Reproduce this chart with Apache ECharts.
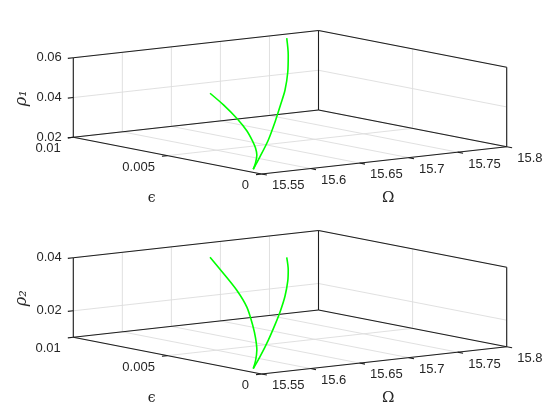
<!DOCTYPE html>
<html><head><meta charset="utf-8">
<script src="https://cdn.jsdelivr.net/npm/echarts@6/dist/echarts.min.js"></script>
<style>html,body{margin:0;padding:0;background:#fff}#c{width:560px;height:420px}</style>
</head><body><div id="c"></div>
<script>
// ---- data ----
const epsilonA = [0.0005,0.0011,0.0018,0.0026,0.0034,0.0048,0.0064,0.0082,0.0100];
const omegaA   = [15.5512,15.5650,15.5798,15.5938,15.6066,15.6273,15.6478,15.6686,15.6894];
const rho1A    = [0.0214,0.0227,0.0246,0.0259,0.0267,0.0285,0.0307,0.0331,0.0345];
const rho2A    = [0.0113,0.0128,0.0153,0.0182,0.0209,0.0253,0.0286,0.0317,0.0345];
const epsilonB = [0.0005,0.0011,0.0018,0.0026,0.0034,0.0048,0.0064,0.0082,0.0100];
const omegaB   = [15.5512,15.5696,15.5915,15.6137,15.6346,15.6661,15.6996,15.7346,15.7676];
const rho1B    = [0.0214,0.0256,0.0315,0.0379,0.0438,0.0470,0.0513,0.0546,0.0579];
const rho2B    = [0.0113,0.0142,0.0186,0.0224,0.0257,0.0280,0.0301,0.0303,0.0312];

// axes
const omegaRange = [15.55, 15.8];
const omegaTicks = [15.55, 15.6, 15.65, 15.7, 15.75, 15.8];
const omegaTickLabels = ['15.55','15.6','15.65','15.7','15.75','15.8'];
const epsRange = [0, 0.01];
const epsTicks = [0, 0.005, 0.01];
const epsTickLabels = ['0','0.005','0.01'];
const rho1Range = [0.02, 0.06];
const rho1Ticks = [0.02, 0.04, 0.06];
const rho1TickLabels = ['0.02','0.04','0.06'];
const rho2Range = [0.01, 0.04];
const rho2Ticks = [0.02, 0.04];
const rho2TickLabels = ['0.02','0.04'];

// ---- view (orthographic projection layout) ----
const OM_VEC = [245.2, -27.3];
const EPS_VEC = [-188.2, -36.7];
const RHO_LEN = 79.5;
const panels = [
  {origin:[261.5,174], rr:rho1Range, ticks:rho1Ticks, labels:rho1TickLabels, name:'ρ₁', ca:rho1A, cb:rho1B},
  {origin:[261.5,374], rr:rho2Range, ticks:rho2Ticks, labels:rho2TickLabels, name:'ρ₂', ca:rho2A, cb:rho2B}
];
function proj(pn, e, o, r) {
  const fe = (e - epsRange[0]) / (epsRange[1] - epsRange[0]);
  const fo = (o - omegaRange[0]) / (omegaRange[1] - omegaRange[0]);
  const fr = (r - pn.rr[0]) / (pn.rr[1] - pn.rr[0]);
  return [pn.origin[0] + fo*OM_VEC[0] + fe*EPS_VEC[0],
          pn.origin[1] + fo*OM_VEC[1] + fe*EPS_VEC[1] - fr*RHO_LEN];
}
function unit(v){const l=Math.hypot(v[0],v[1]);return [v[0]/l,v[1]/l];}
const TL = 5.5;
const dOm = unit([-OM_VEC[0],-OM_VEC[1]]);   // ticks of eps & rho axes
const dEps = unit([-EPS_VEC[0],-EPS_VEC[1]]); // ticks of omega axis

const gridSegs = [], edgeSegs = [], texts = [], curves = [];
const e0=epsRange[0], e1=epsRange[1], o0=omegaRange[0], o1=omegaRange[1];
function seg(arr, a, b){arr.push([a[0],a[1],b[0],b[1]]);}

panels.forEach(pn => {
  const r0=pn.rr[0], r1=pn.rr[1];
  // grid: back wall (eps = max)
  omegaTicks.forEach(o => seg(gridSegs, proj(pn,e1,o,r0), proj(pn,e1,o,r1)));
  pn.ticks.forEach(r => seg(gridSegs, proj(pn,e1,o0,r), proj(pn,e1,o1,r)));
  // right wall (omega = max)
  epsTicks.forEach(e => seg(gridSegs, proj(pn,e,o1,r0), proj(pn,e,o1,r1)));
  pn.ticks.forEach(r => seg(gridSegs, proj(pn,e0,o1,r), proj(pn,e1,o1,r)));
  // floor
  omegaTicks.forEach(o => seg(gridSegs, proj(pn,e0,o,r0), proj(pn,e1,o,r0)));
  epsTicks.forEach(e => seg(gridSegs, proj(pn,e,o0,r0), proj(pn,e,o1,r0)));
  // box edges
  seg(edgeSegs, proj(pn,e1,o0,r0), proj(pn,e1,o0,r1));
  seg(edgeSegs, proj(pn,e1,o1,r0), proj(pn,e1,o1,r1));
  seg(edgeSegs, proj(pn,e0,o1,r0), proj(pn,e0,o1,r1));
  seg(edgeSegs, proj(pn,e1,o0,r1), proj(pn,e1,o1,r1));
  seg(edgeSegs, proj(pn,e1,o1,r1), proj(pn,e0,o1,r1));
  seg(edgeSegs, proj(pn,e1,o0,r0), proj(pn,e1,o1,r0));
  seg(edgeSegs, proj(pn,e1,o1,r0), proj(pn,e0,o1,r0));
  seg(edgeSegs, proj(pn,e0,o0,r0), proj(pn,e1,o0,r0));
  seg(edgeSegs, proj(pn,e0,o0,r0), proj(pn,e0,o1,r0));
  // ticks + labels
  omegaTicks.forEach((o,i) => {
    const p = proj(pn,e0,o,r0);
    seg(edgeSegs, p, [p[0]+dEps[0]*TL, p[1]+dEps[1]*TL]);
    texts.push([p[0]+10.5, p[1]+11.8, omegaTickLabels[i], 'left', 0, 'tick']);
  });
  epsTicks.forEach((e,i) => {
    const p = proj(pn,e,o0,r0);
    seg(edgeSegs, p, [p[0]+dOm[0]*TL, p[1]+dOm[1]*TL]);
    texts.push([p[0]-12.5, p[1]+11.3, epsTickLabels[i], 'right', 0, 'tick']);
  });
  pn.ticks.forEach((r,i) => {
    const p = proj(pn,e1,o0,r);
    seg(edgeSegs, p, [p[0]+dOm[0]*TL, p[1]+dOm[1]*TL]);
    texts.push([p[0]-11.5, p[1], pn.labels[i], 'right', 0, 'tick']);
  });
  // axis titles
  const pr = proj(pn, e1, o0, (r0+r1)/2);
  texts.push([pr[0]-51.6, pr[1]+0.8, pn.name, 'center', Math.PI/2, 'rho']);
  const pe = proj(pn, (e0+e1)/2, o0, r0);
  texts.push([pe[0]-15.7, pe[1]+42.6, 'ϵ', 'center', 0, 'eps']);
  const po = proj(pn, e0, (o0+o1)/2, r0);
  texts.push([po[0]+4.2, po[1]+38, 'Ω', 'center', 0, 'om']);
  // curves
  curves.push(epsilonA.map((e,i)=>proj(pn,e,omegaA[i],pn.ca[i])));
  curves.push(epsilonB.map((e,i)=>proj(pn,e,omegaB[i],pn.cb[i])));
});

function segSeries(data, color, width){
  return {type:'custom', data, clip:false, silent:true, encode:{x:[0,2], y:[1,3]},
    renderItem:(params, api)=>{
      const a = api.coord([api.value(0), api.value(1)]);
      const b = api.coord([api.value(2), api.value(3)]);
      return {type:'line', shape:{x1:a[0],y1:a[1],x2:b[0],y2:b[1]}, style:{stroke:color, lineWidth:width}};
    }};
}
const fonts = {
  tick: '13px "Liberation Sans"',
  rho: 'italic 16px "DejaVu Serif"',
  eps: '14px "DejaVu Serif"',
  om: '15px "DejaVu Serif"'
};
const textSeries = {type:'custom', clip:false, silent:true,
  data: texts.map(t=>[t[0],t[1]]),
  encode:{x:0,y:1},
  renderItem:(params, api)=>{
    const d = texts[params.dataIndex];
    const p = api.coord([api.value(0), api.value(1)]);
    return {type:'text', x:p[0], y:p[1], rotation:d[4],
      style:{text:d[2], font:fonts[d[5]], fill:'#262626', align:d[3], verticalAlign:'middle'}};
  }};

const series = [segSeries(gridSegs,'#dcdcdc',0.9), segSeries(edgeSegs,'#1e1e1e',1.1)];
curves.forEach(c => series.push({type:'line', data:c, smooth:0.3, showSymbol:false, clip:false,
  silent:true, lineStyle:{color:'#00ff00', width:1.6}, animation:false}));
series.push(textSeries);

const chart = echarts.init(document.getElementById('c'), null, {renderer:'canvas'});
chart.setOption({
  animation:false,
  backgroundColor:'#ffffff',
  grid:{left:0,right:0,top:0,bottom:0},
  xAxis:{type:'value', min:0, max:560, show:false},
  yAxis:{type:'value', min:0, max:420, inverse:true, show:false},
  series
});
</script></body></html>
